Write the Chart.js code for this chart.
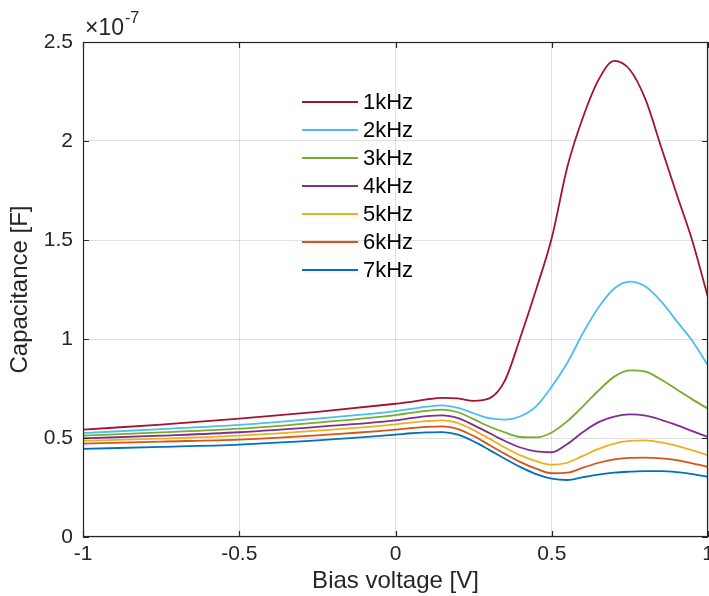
<!DOCTYPE html>
<html>
<head>
<meta charset="utf-8">
<script src="https://cdn.jsdelivr.net/npm/chart.js@4.4.0/dist/chart.umd.min.js"></script>
<style>
  html, body { margin: 0; padding: 0; background: #fff; }
  #wrap { width: 709px; height: 596px; }
</style>
</head>
<body>
<div id="wrap"><canvas id="capChart"></canvas></div>
<script>
'use strict';

/* ---- Data (capacitance in units of 1e-7 F) ---- */
const biasV = [-1, -0.75, -0.5, -0.25, 0, 0.05, 0.1, 0.15, 0.2, 0.25, 0.3, 0.35, 0.4,
               0.45, 0.5, 0.55, 0.6, 0.65, 0.7, 0.75, 0.8, 0.85, 0.9, 0.95, 1];

const freqLabels = ['1kHz', '2kHz', '3kHz', '4kHz', '5kHz', '6kHz', '7kHz'];

const c1k = [0.542, 0.568, 0.598, 0.632, 0.673, 0.682, 0.695, 0.703, 0.700, 0.688, 0.700, 0.790, 1.010,
             1.250, 1.510, 1.870, 2.120, 2.310, 2.405, 2.360, 2.210, 1.970, 1.730, 1.495, 1.210];
const c2k = [0.525, 0.545, 0.566, 0.598, 0.636, 0.647, 0.658, 0.665, 0.652, 0.625, 0.600, 0.593, 0.610,
             0.660, 0.760, 0.880, 1.030, 1.160, 1.255, 1.290, 1.265, 1.190, 1.090, 0.990, 0.866];
const c3k = [0.512, 0.528, 0.547, 0.578, 0.616, 0.627, 0.637, 0.643, 0.630, 0.595, 0.558, 0.528, 0.505,
             0.503, 0.528, 0.585, 0.660, 0.740, 0.810, 0.842, 0.835, 0.795, 0.745, 0.695, 0.648];
const c4k = [0.498, 0.512, 0.529, 0.556, 0.589, 0.600, 0.610, 0.614, 0.600, 0.565, 0.525, 0.485, 0.452,
             0.432, 0.428, 0.470, 0.530, 0.580, 0.608, 0.619, 0.613, 0.592, 0.565, 0.535, 0.505];
const c5k = [0.485, 0.497, 0.512, 0.537, 0.569, 0.578, 0.585, 0.589, 0.575, 0.540, 0.497, 0.452, 0.412,
             0.383, 0.365, 0.375, 0.410, 0.445, 0.472, 0.485, 0.488, 0.478, 0.460, 0.438, 0.413];
const c6k = [0.472, 0.482, 0.492, 0.513, 0.542, 0.550, 0.556, 0.559, 0.545, 0.510, 0.465, 0.420, 0.378,
             0.345, 0.322, 0.325, 0.350, 0.375, 0.392, 0.400, 0.401, 0.397, 0.388, 0.372, 0.354];
const c7k = [0.445, 0.455, 0.467, 0.488, 0.517, 0.524, 0.528, 0.530, 0.517, 0.483, 0.440, 0.395, 0.353,
             0.318, 0.295, 0.288, 0.302, 0.315, 0.325, 0.330, 0.333, 0.333, 0.328, 0.318, 0.304];

const xTicks = [-1, -0.5, 0, 0.5, 1];
const yTicks = [0, 0.5, 1, 1.5, 2, 2.5];

/* ---- Styles ---- */
const COLORS = ['#A2142F', '#4DBEEE', '#77AC30', '#7E2F8E', '#EDB120', '#D95319', '#0072BD'];
const TEXT = '#262626';
const FONT = "'Liberation Sans', Arial, Helvetica, sans-serif";

const series = [c1k, c2k, c3k, c4k, c5k, c6k, c7k];

const datasets = series.map((vals, i) => ({
  label: freqLabels[i],
  data: vals.map((v, j) => ({ x: biasV[j], y: v })),
  borderColor: COLORS[i],
  backgroundColor: COLORS[i],
  borderWidth: 1.8,
  pointRadius: 0,
  fill: false,
  cubicInterpolationMode: 'monotone',
}));

/* box, inward ticks, in-plot legend and exponent label */
const matlabAxes = {
  id: 'matlabAxes',
  afterDraw(chart) {
    const { ctx, chartArea: a, scales } = chart;
    ctx.save();
    ctx.strokeStyle = TEXT;
    ctx.lineWidth = 1.2;
    ctx.strokeRect(a.left + 0.5, a.top + 0.5, a.right - a.left - 1, a.bottom - a.top - 1);
    const tl = 6;
    ctx.beginPath();
    xTicks.forEach(v => {
      const px = Math.round(scales.x.getPixelForValue(v)) + 0.5;
      ctx.moveTo(px, a.bottom); ctx.lineTo(px, a.bottom - tl);
      ctx.moveTo(px, a.top); ctx.lineTo(px, a.top + tl);
    });
    yTicks.forEach(v => {
      const py = Math.round(scales.y.getPixelForValue(v)) + 0.5;
      ctx.moveTo(a.left, py); ctx.lineTo(a.left + tl, py);
      ctx.moveTo(a.right, py); ctx.lineTo(a.right - tl, py);
    });
    ctx.stroke();

    // exponent
    ctx.fillStyle = TEXT;
    ctx.textBaseline = 'alphabetic';
    ctx.textAlign = 'left';
    ctx.font = `23px ${FONT}`;
    ctx.fillText('\u00d710', a.left + 2, a.top - 7);
    const w = ctx.measureText('\u00d710').width;
    ctx.font = `16px ${FONT}`;
    ctx.fillText('-7', a.left + 2 + w + 1, a.top - 19);

    // legend
    ctx.font = `22px ${FONT}`;
    ctx.textBaseline = 'middle';
    chart.data.datasets.forEach((ds, i) => {
      const y = 102 + i * 28;
      ctx.strokeStyle = ds.borderColor;
      ctx.lineWidth = 1.8;
      ctx.beginPath();
      ctx.moveTo(302, y); ctx.lineTo(358, y);
      ctx.stroke();
      ctx.fillStyle = '#000';
      ctx.fillText(ds.label, 363, y + 1);
    });
    ctx.restore();
  }
};

new Chart(document.getElementById('capChart'), {
  type: 'line',
  data: { datasets },
  options: {
    responsive: true, maintainAspectRatio: false, animation: false,
    layout: { padding: { left: 0, right: 1, top: 42, bottom: 0 } },
    plugins: { legend: { display: false }, tooltip: { enabled: false } },
    scales: {
      x: {
        type: 'linear', min: -1, max: 1,
        afterFit: s => { s.height = 59; s.paddingLeft = 0; s.paddingRight = 0; },
        afterBuildTicks: s => { s.ticks = xTicks.map(v => ({ value: v })); },
        grid: { color: 'rgba(0,0,0,0.12)', drawTicks: false },
        border: { display: false },
        ticks: { color: TEXT, font: { family: FONT, size: 21 }, padding: 5, maxRotation: 0, callback: v => String(v) },
        title: { display: true, text: 'Bias voltage [V]', color: TEXT, font: { family: FONT, size: 24 }, padding: { top: 0, bottom: 0 } }
      },
      y: {
        min: 0, max: 2.5,
        afterFit: s => { s.width = 83; s.paddingTop = 0; s.paddingBottom = 0; },
        afterBuildTicks: s => { s.ticks = yTicks.map(v => ({ value: v })); },
        grid: { color: 'rgba(0,0,0,0.12)', drawTicks: false },
        border: { display: false },
        ticks: { color: TEXT, font: { family: FONT, size: 21 }, padding: 10, callback: v => String(v) },
        title: { display: true, text: 'Capacitance [F]', color: TEXT, font: { family: FONT, size: 24 }, padding: { top: 6, bottom: 0 } }
      }
    }
  },
  plugins: [matlabAxes]
});
</script>
</body>
</html>
